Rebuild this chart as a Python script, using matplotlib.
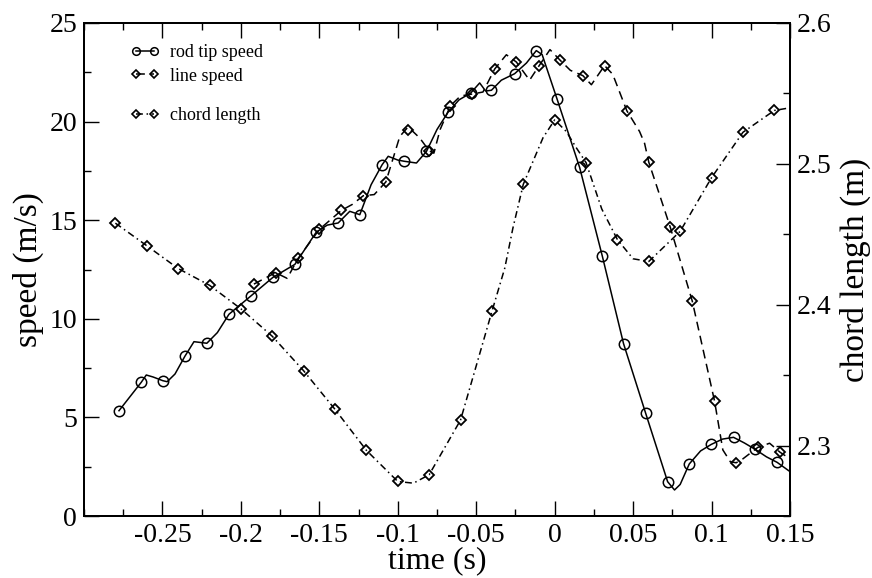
import matplotlib
matplotlib.use("Agg")
import matplotlib.pyplot as plt
from matplotlib.lines import Line2D
from matplotlib.ticker import FixedLocator, MultipleLocator, FuncFormatter

plt.rcParams.update(
    {
        "font.family": ["Liberation Serif", "DejaVu Serif"],
        "axes.unicode_minus": False,
    }
)

rod_t = [-0.2777, -0.2635, -0.2497, -0.2357, -0.2217, -0.2076, -0.1936, -0.1796,
         -0.1656, -0.1520, -0.1380, -0.1242, -0.1100, -0.0960, -0.0817, -0.0680,
         -0.0535, -0.0403, -0.0255, -0.0117, 0.0015, 0.0159, 0.0304, 0.0439,
         0.0580, 0.0720, 0.0858, 0.0998, 0.1140, 0.1278, 0.1418]
rod_v = [5.34, 6.78, 6.86, 8.10, 8.76, 10.23, 11.16, 12.10,
         12.76, 14.39, 14.86, 15.28, 17.81, 17.99, 18.49, 20.47,
         21.45, 21.59, 22.43, 23.60, 21.15, 17.68, 13.17, 8.74,
         5.21, 1.74, 2.64, 3.63, 3.99, 3.38, 2.72]
rod_curve_t = [-0.2777, -0.2635, -0.2603, -0.2560, -0.2497, -0.2470, -0.2420, -0.2357,
               -0.2299, -0.2217, -0.2150, -0.2076, -0.1936, -0.1796, -0.1656, -0.1520,
               -0.1450, -0.1380, -0.1306, -0.1242, -0.1170, -0.1100, -0.1061, -0.1000,
               -0.0960, -0.0881, -0.0817, -0.0750, -0.0680, -0.0610, -0.0535, -0.0478,
               -0.0440, -0.0403, -0.0340, -0.0255, -0.0180, -0.0117, -0.0080, 0.0015,
               0.0159, 0.0304, 0.0439, 0.0580, 0.0720, 0.0764, 0.0800, 0.0858,
               0.0930, 0.0998, 0.1070, 0.1140, 0.1210, 0.1278, 0.1350, 0.1418, 0.1500]
rod_curve_v = [5.34, 6.78, 7.15, 7.05, 6.86, 6.81, 7.20, 8.10,
               8.84, 8.76, 9.30, 10.23, 11.16, 12.10, 12.76, 14.39,
               14.75, 14.86, 15.45, 15.28, 16.80, 17.81, 18.24, 18.05,
               17.99, 17.90, 18.49, 19.60, 20.47, 21.10, 21.45, 21.96,
               21.55, 21.59, 22.10, 22.43, 22.97, 23.60, 23.40, 21.15,
               17.68, 13.17, 8.74, 5.21, 1.74, 1.32, 1.60, 2.64,
               3.30, 3.63, 3.90, 3.99, 3.70, 3.38, 3.00, 2.72, 2.25]

# line speed
line_t = [-0.1917, -0.1779, -0.1635, -0.1499, -0.1359, -0.1220, -0.1076, -0.0938,
          -0.0800, -0.0664, -0.0524, -0.0382, -0.0244, -0.0102, 0.0035, 0.0180,
          0.0318, 0.0460, 0.0600, 0.0737, 0.0877, 0.1019, 0.1157, 0.1295, 0.1437]
line_v = [11.76, 12.34, 13.07, 14.54, 15.50, 16.24, 16.94, 19.59,
          18.52, 20.81, 21.40, 22.67, 23.02, 22.80, 23.11, 22.33,
          22.84, 20.55, 17.94, 14.64, 10.90, 5.83, 2.70, 3.48, 3.23]
line_curve_t = [-0.1917, -0.1779, -0.1705, -0.1635, -0.1499, -0.1359, -0.1290, -0.1220,
                -0.1150, -0.1076, -0.0987, -0.0934, -0.0860, -0.0800, -0.0770, -0.0730,
                -0.0664, -0.0600, -0.0524, -0.0457, -0.0382, -0.0308, -0.0244, -0.0160,
                -0.0102, -0.0030, 0.0035, 0.0100, 0.0180, 0.0234, 0.0318, 0.0370,
                0.0460, 0.0541, 0.0573, 0.0600, 0.0737, 0.0877, 0.1019, 0.1072,
                0.1120, 0.1157, 0.1200, 0.1295, 0.1370, 0.1437, 0.1500]
line_curve_v = [11.76, 12.34, 12.05, 13.07, 14.54, 15.50, 15.80, 16.24,
                16.30, 16.94, 19.25, 19.73, 19.17, 18.52, 18.40, 19.60,
                20.81, 21.30, 21.40, 21.50, 22.67, 23.39, 23.02, 22.10,
                22.80, 23.65, 23.11, 22.60, 22.33, 21.87, 22.84, 22.40,
                20.55, 19.50, 18.90, 17.94, 14.64, 10.90, 5.83, 3.35,
                2.75, 2.70, 2.90, 3.48, 3.69, 3.23, 2.90]

# chord length (right axis)
chord_t = [-0.28, -0.26, -0.24, -0.22, -0.20, -0.18, -0.16, -0.14, -0.12, -0.10, -0.08,
           -0.06, -0.04, -0.02, 0.00, 0.02, 0.04, 0.06, 0.08, 0.10, 0.12, 0.14]
chord_v = [2.4579, 2.4419, 2.4257, 2.4138, 2.3971, 2.3776, 2.3531, 2.3257, 2.2966, 2.2745, 2.2793,
           2.3181, 2.3952, 2.4855, 2.5312, 2.5009, 2.4462, 2.4307, 2.4521, 2.4902, 2.5224, 2.5379]
chord_curve_t = [-0.28, -0.26, -0.24, -0.22, -0.20, -0.18, -0.16, -0.14, -0.12, -0.10,
                 -0.09, -0.08, -0.06, -0.05, -0.04, -0.0318, -0.0266, -0.02, -0.0074, 0.00,
                 0.0074, 0.0138, 0.02, 0.03, 0.04, 0.05, 0.06, 0.08, 0.10, 0.12, 0.14, 0.15]
chord_curve_v = [2.4579, 2.4419, 2.4257, 2.4138, 2.3971, 2.3776, 2.3531, 2.3257, 2.2966, 2.2745,
                 2.2733, 2.2793, 2.3181, 2.3566, 2.3952, 2.4260, 2.4545, 2.4855, 2.5186, 2.5312,
                 2.5230, 2.5114, 2.5009, 2.4680, 2.4462, 2.4326, 2.4307, 2.4521, 2.4902, 2.5224, 2.5379, 2.5398]

x_ticks = [-0.25, -0.2, -0.15, -0.1, -0.05, 0, 0.05, 0.1, 0.15]
speed_ticks = [0, 5, 10, 15, 20, 25]
chord_ticks = [2.3, 2.4, 2.5, 2.6]

DASHED = (0, (5.8, 3.6))
DASHDOT = (0, (4.5, 2.4, 1.0, 2.4))
LW = 1.1

fig = plt.figure(figsize=(8.72, 5.78), dpi=100)
ax = fig.add_axes([84 / 872, 1 - 516 / 578, 706 / 872, 493 / 578])
ax2 = ax.twinx()

ax.plot(rod_curve_t, rod_curve_v, color="black", lw=LW)
ax.plot(rod_t, rod_v, ls="none", marker="o", ms=7.5, mfc="none", mec="black", mew=1.1)
ax.plot(line_curve_t, line_curve_v, color="black", lw=LW, ls=DASHED)
ax.plot(line_t, line_v, ls="none", marker="D", ms=5.2, mfc="none", mec="black", mew=1.3)
ax2.plot(chord_curve_t, chord_curve_v, color="black", lw=LW, ls=DASHDOT)
ax2.plot(chord_t, chord_v, ls="none", marker="D", ms=5.2, mfc="none", mec="black", mew=1.3)

ax.set_xlim(-0.3, 0.15)
ax.set_ylim(0, 25)
ax2.set_ylim(2.25, 2.6)

fmt = FuncFormatter(lambda v, _: f"{v:g}")
ax.xaxis.set_major_locator(FixedLocator(x_ticks))
ax.xaxis.set_minor_locator(MultipleLocator(0.025))
ax.xaxis.set_major_formatter(fmt)
ax.yaxis.set_major_locator(FixedLocator(speed_ticks))
ax.yaxis.set_minor_locator(MultipleLocator(2.5))
ax2.yaxis.set_major_locator(FixedLocator(chord_ticks))
ax2.yaxis.set_minor_locator(MultipleLocator(0.05))
ax2.yaxis.set_major_formatter(fmt)

for a in (ax, ax2):
    for s in a.spines.values():
        s.set_linewidth(1.4)
ax.tick_params(axis="both", which="both", direction="in", width=1.0, labelsize=20)
ax.tick_params(axis="x", which="both", top=True, pad=5)
ax.tick_params(axis="y", which="both", right=False, pad=5)
ax.tick_params(which="major", length=10.5)
ax.tick_params(which="minor", length=5)
ax2.tick_params(axis="y", which="both", direction="in", width=1.0, labelsize=20, pad=5)
ax2.tick_params(which="major", length=10)
ax2.tick_params(which="minor", length=5)

ax.set_xlabel("time (s)", fontsize=23, labelpad=-1)
ax.set_ylabel("speed (m/s)", fontsize=24, labelpad=4)
ax2.set_ylabel("chord length (m)", fontsize=24, labelpad=6)

handles1 = [
    Line2D([], [], color="black", lw=LW, marker="o", ms=5.5, mfc="none", mew=1.1),
    Line2D([], [], color="black", lw=LW, ls=DASHED, marker="D", ms=4, mfc="none", mew=1.2),
]
leg1 = ax.legend(handles1, ["rod tip speed", "line speed"], loc="upper left",
                 bbox_to_anchor=(0.066, 0.957), frameon=False, fontsize=13, numpoints=2,
                 handlelength=1.6, handletextpad=0.6, borderpad=0, borderaxespad=0,
                 labelspacing=0.35)
ax.add_artist(leg1)
handles2 = [Line2D([], [], color="black", lw=LW, ls=DASHDOT, marker="D", ms=4, mfc="none", mew=1.2)]
ax.legend(handles2, ["chord length"], loc="upper left", bbox_to_anchor=(0.066, 0.829),
          frameon=False, fontsize=13, numpoints=2, handlelength=1.6, handletextpad=0.6,
          borderpad=0, borderaxespad=0)

fig.savefig("out.png", dpi=100)
